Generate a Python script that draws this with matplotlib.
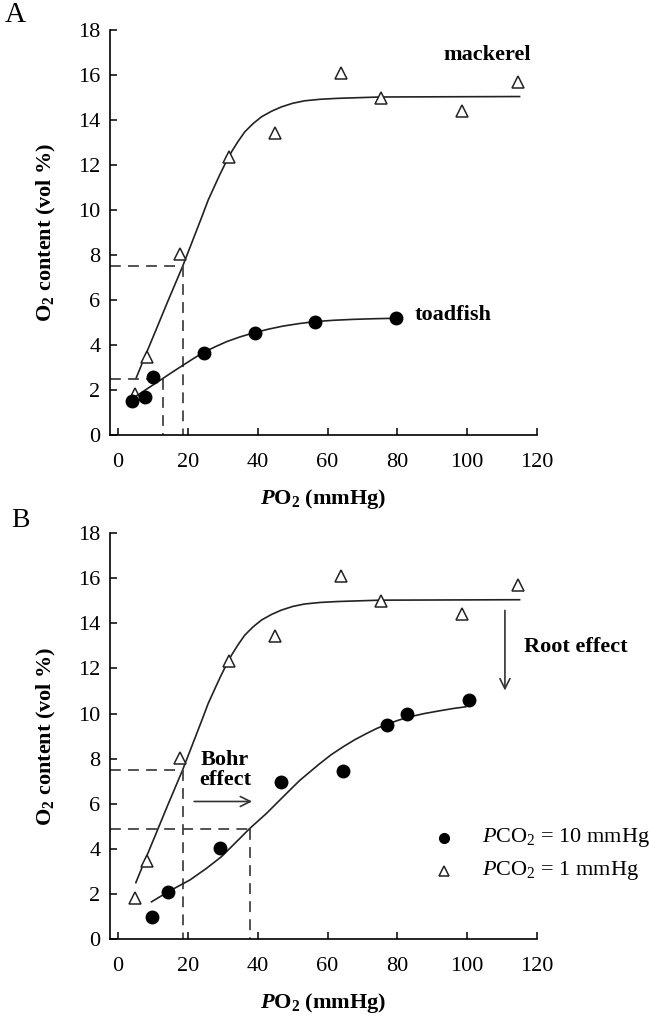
import matplotlib
matplotlib.use("Agg")
import matplotlib.pyplot as plt

plt.rcParams['font.family'] = ['Liberation Serif', 'DejaVu Serif']
plt.rcParams['mathtext.fontset'] = 'custom'
plt.rcParams['mathtext.rm'] = 'Liberation Serif'
plt.rcParams['mathtext.it'] = 'Liberation Serif:italic'
plt.rcParams['mathtext.bf'] = 'Liberation Serif:bold'
plt.rcParams['mathtext.bfit'] = 'Liberation Serif:italic:bold'

# mackerel (PCO2 = 1 mmHg), open triangles
mack_x = [5.0, 8.2, 17.7, 31.7, 44.9, 63.9, 75.3, 98.4, 114.6]
mack_y = [1.8, 3.45, 8.05, 12.35, 13.45, 16.1, 15.0, 14.4, 15.7]
# fitted curve
mack_cx = [5.1, 8.0, 11.0, 14.0, 17.0, 18.5, 20.0, 22.0, 24.0, 25.8, 27.5, 29.1, 30.8,
           32.5, 34.4, 36.3, 38.7, 41.1, 44.0, 46.8, 50.0, 53.4, 58.0, 62.9, 75.0, 115.0]
mack_cy = [2.5, 3.6, 4.72, 5.85, 6.95, 7.5, 8.1, 8.9, 9.7, 10.44, 11.02, 11.56, 12.1,
           12.59, 13.06, 13.48, 13.85, 14.15, 14.4, 14.59, 14.75, 14.86, 14.93, 14.97, 15.03, 15.05]

# toadfish, filled circles
toad_x = [3.9, 7.7, 10.1, 24.6, 39.1, 56.3, 79.6]
toad_y = [1.52, 1.7, 2.6, 3.66, 4.55, 5.04, 5.19]
toad_cx = [4.9, 8.9, 12.9, 15.8, 18.7, 21.5, 24.4, 27.8, 31.1, 35.1, 39.1, 43.2,
           47.2, 51.7, 56.3, 61.7, 67.2, 73.4, 79.6]
toad_cy = [1.7, 2.11, 2.52, 2.82, 3.11, 3.39, 3.66, 3.92, 4.15, 4.37, 4.55, 4.71,
           4.84, 4.95, 5.04, 5.1, 5.14, 5.17, 5.19]

# PCO2 = 10 mmHg, filled circles (panel B)
hi_x = [9.6, 14.4, 29.1, 46.8, 64.4, 77.1, 82.8, 100.4]
hi_y = [0.99, 2.1, 4.02, 6.97, 7.46, 9.5, 9.97, 10.6]
hi_cx = [9.6, 14.4, 20.6, 25.3, 29.6, 33.9, 37.7, 42.5, 48.2, 52.0, 55.0, 57.7, 61.0,
         64.4, 67.8, 71.1, 74.1, 77.1, 80.2, 83.4, 87.7, 92.0, 95.8, 99.6]
hi_cy = [1.65, 2.1, 2.62, 3.13, 3.65, 4.31, 4.9, 5.57, 6.45, 7.03, 7.42, 7.77, 8.17,
         8.52, 8.84, 9.11, 9.34, 9.53, 9.7, 9.85, 10.0, 10.12, 10.22, 10.3]

xticks = [0, 20, 40, 60, 80, 100, 120]
yticks = [0, 2, 4, 6, 8, 10, 12, 14, 16, 18]

fig = plt.figure(figsize=(6.49, 10.17), dpi=100)
axA = fig.add_axes([0.1695, 0.5723, 0.658, 0.398])
axB = fig.add_axes([0.1695, 0.0767, 0.658, 0.399])

FS = 16
dash_kw = dict(color='#444444', lw=1.3, dashes=(6, 4))
tri_kw = dict(ls='none', marker='^', ms=8, mfc='white', mec='#222222', mew=1.1)
dot_kw = dict(ls='none', marker='o', ms=9, mfc='black', mec='black')

for ax in (axA, axB):
    ax.set_xlim(-2.3, 120)
    ax.set_ylim(0, 18)
    ax.set_xticks(xticks)
    ax.set_yticks(yticks)
    ax.spines['top'].set_visible(False)
    ax.spines['right'].set_visible(False)
    for s in ('left', 'bottom'):
        ax.spines[s].set_linewidth(1.2)
    ax.tick_params(axis='both', direction='in', length=5, width=1.1, labelsize=FS)
    ax.tick_params(axis='x', pad=13)
    ax.tick_params(axis='y', pad=7)
    ax.set_ylabel(r"O$_{\mathbf{2}}$ content (vol %)", fontsize=FS, fontweight='bold')
    ax.yaxis.set_label_coords(-0.122, 0.5)
    ax.set_xlabel(r"$\mathbfit{P}$O$_{\mathbf{2}}$ (mmHg)", fontsize=FS, fontweight='bold')
    ax.xaxis.set_label_coords(0.5, -0.128)
    ax.plot(mack_cx, mack_cy, color='#222222', lw=1.2)
    ax.plot(mack_x, mack_y, **tri_kw)
    # dashed guides at 7.5 vol % on the mackerel curve
    ax.plot([-2.3, 18.5], [7.5, 7.5], **dash_kw)
    ax.plot([18.5, 18.5], [7.5, 0], **dash_kw)

# panel A
axA.plot([-2.3, 12.9], [2.5, 2.5], **dash_kw)
axA.plot([12.9, 12.9], [2.5, 0], **dash_kw)
axA.plot(toad_cx, toad_cy, color='#222222', lw=1.2)
axA.plot(toad_x, toad_y, **dot_kw)
axA.text(105.7, 16.9, "mackerel", fontsize=FS, fontweight='bold', ha='center', va='center')
axA.text(85.0, 5.33, "toadfish", fontsize=FS, fontweight='bold', ha='left', va='center')

# panel B
axB.plot([-2.3, 37.8], [4.9, 4.9], **dash_kw)
axB.plot([37.8, 37.8], [4.9, 0], **dash_kw)
axB.plot(hi_cx, hi_cy, color='#222222', lw=1.2)
axB.plot(hi_x, hi_y, **dot_kw)
axB.text(30.6, 7.5, "Bohr\neffect", fontsize=FS, fontweight='bold', ha='center', va='center',
         linespacing=1.0)
axB.annotate("", xy=(39.2, 6.1), xytext=(21.0, 6.1),
             arrowprops=dict(arrowstyle='->', color='#333333', lw=1.2, mutation_scale=18))
axB.annotate("", xy=(110.8, 10.9), xytext=(110.8, 14.7),
             arrowprops=dict(arrowstyle='->', color='#333333', lw=1.2, mutation_scale=18))
axB.text(116.3, 12.95, "Root effect", fontsize=FS, fontweight='bold', ha='left', va='center',
         clip_on=False)

# legend drawn as markers + text
axB.plot([93.4], [4.5], ls='none', marker='o', ms=7, mfc='black', mec='black')
axB.plot([93.4], [3.03], ls='none', marker='^', ms=6.5, mfc='white', mec='#222222', mew=1.1)
axB.text(104.2, 4.5, r"$\mathit{P}$CO$_2$ = 10 mmHg", fontsize=FS, ha='left', va='center', clip_on=False)
axB.text(104.2, 3.03, r"$\mathit{P}$CO$_2$ = 1 mmHg", fontsize=FS, ha='left', va='center', clip_on=False)

fig.text(0.008, 0.972, "A", fontsize=21, ha='left', va='bottom')
fig.text(0.018, 0.476, "B", fontsize=20, ha='left', va='bottom')

fig.savefig("out.png", dpi=100)
